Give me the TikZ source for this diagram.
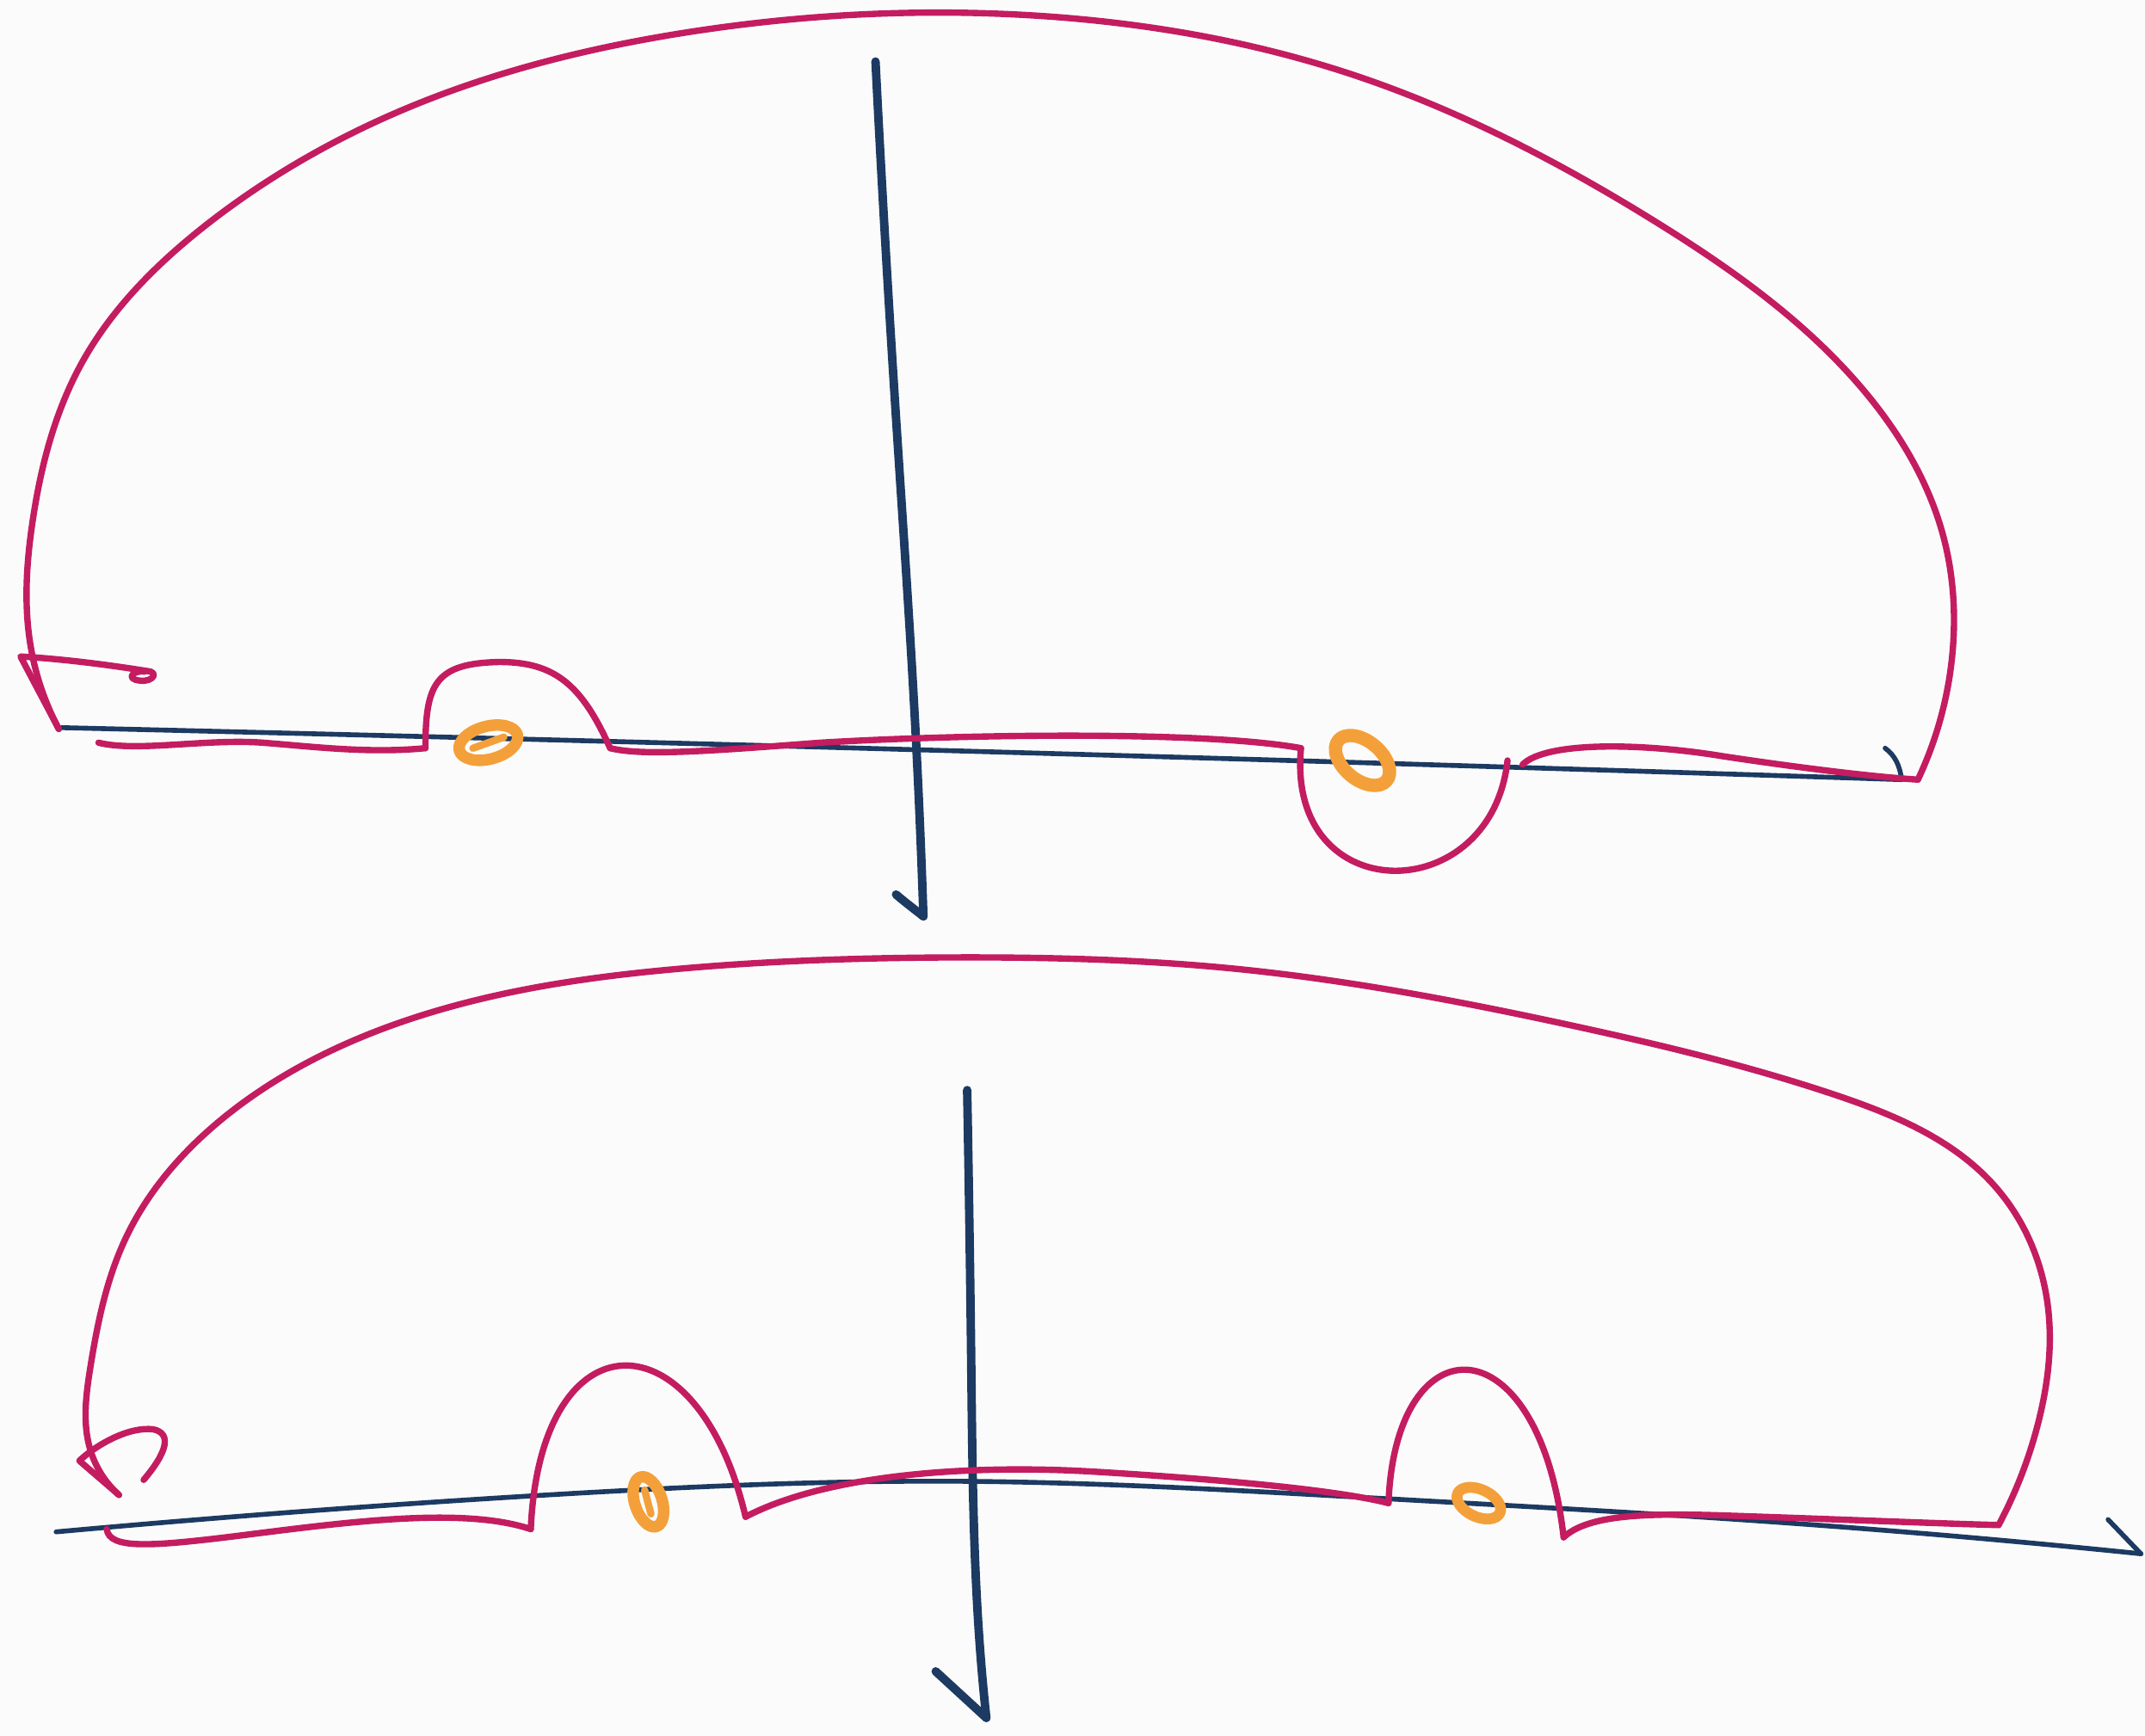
\documentclass[tikz,border=0pt]{standalone}
\usetikzlibrary{hobby}
\definecolor{pinkc}{RGB}{196,28,96}
\definecolor{navyc}{RGB}{28,58,98}
\definecolor{orangec}{RGB}{244,160,58}
\definecolor{paper}{RGB}{251,251,251}
\tikzset{
  contour/.style={draw=pinkc, line width=2.1pt, line cap=round, line join=round},
  hob/.style={use Hobby shortcut},
  axisv/.style={draw=navyc, line width=2.8pt, line cap=round, line join=round},
  axish/.style={draw=navyc, line width=1.6pt, line cap=round, line join=round},
  pole/.style={draw=orangec, line width=3.8pt, line cap=round, line join=round},
}
\begin{document}
\begin{tikzpicture}[x=0.015899cm, y=-0.015899cm]
\fill[paper] (0,0) rectangle (1568,1269);
\useasboundingbox (0,0) rectangle (1568,1269);

% ---------------- top figure ----------------
% axes
\draw[axish, hob] (45,532) .. (700,549) .. (1390,570);
\draw[axish] (1378,547) .. controls (1385,552) and (1389,560) .. (1390,570);
\draw[axisv, hob] (640,45) .. (654,290) .. (669,530) .. (675,670);
\draw[axisv] (655,654) .. controls (662,660) and (670,666) .. (675,670);

% contour
\draw[contour] (72,543) .. controls (100,550) and (150,540) .. (192,543)
   .. controls (230,546) and (270,551) .. (311,547);
\draw[contour] (311,547) .. controls (311,500) and (318,485) .. (365,484)
   .. controls (405,484) and (425,500) .. (446,547);
\draw[contour] (446,547) .. controls (470,553) and (520,549) .. (600,543)
   .. controls (700,537) and (880,534) .. (951,547);
\draw[contour] (951,547) .. controls (940,665) and (1090,665) .. (1102,556);
\draw[contour] (1113,559) .. controls (1130,542) and (1200,543) .. (1260,553)
   .. controls (1320,562) and (1370,568) .. (1402,570);
\draw[contour, hob] (1402,570) .. (1427,480) .. (1420,390) .. (1362,285) .. (1210,162) .. (990,55) .. (750,11) .. (500,24) .. (300,78) .. (150,165) .. (60,265) .. (24,380) .. (22,470) .. (43,533);
\draw[contour] (43,533) -- (15,480) .. controls (50,482) and (85,487) .. (110,491)
   .. controls (116,493) and (110,500) .. (99,497) .. controls (93,495) and (98,490) .. (106,491);

% poles
\begin{scope}[shift={(357,543)}, rotate=15]
  \draw[pole] (0,0) ellipse [x radius=22, y radius=12];
  \draw[pole, line width=2.4pt] (-12,1) -- (12,-1);
\end{scope}
\begin{scope}[shift={(996,556)}, rotate=-40]
  \draw[pole, line width=4.4pt] (0,0) ellipse [x radius=23, y radius=14];
\end{scope}

% ---------------- bottom figure ----------------
% axes
\draw[axish, hob] (41,1120) .. (400,1093) .. (700,1083) .. (1000,1095) .. (1300,1113) .. (1565,1136);
\draw[axish] (1541,1111) -- (1565,1136);
\draw[axisv, hob] (707,797) .. (710,1000) .. (716,1200) .. (721,1256);
\draw[axisv] (684,1222) -- (721,1256);

% contour
\draw[contour] (78,1118) .. controls (80,1133) and (110,1131) .. (181,1122)
   .. controls (260,1112) and (340,1102) .. (388,1118);
\draw[contour] (388,1118) .. controls (395,960) and (510,960) .. (545,1109);
\draw[contour] (545,1109) .. controls (600,1080) and (700,1070) .. (800,1076)
   .. controls (900,1082) and (980,1090) .. (1015,1099);
\draw[contour] (1015,1099) .. controls (1020,965) and (1125,965) .. (1143,1124);
\draw[contour] (1143,1124) .. controls (1160,1108) and (1200,1106) .. (1260,1108)
   .. controls (1350,1111) and (1420,1114) .. (1461,1115);
\draw[contour, hob] (1461,1115) .. (1490,1040) .. (1497,955) .. (1458,867) .. (1340,800) .. (1150,750) .. (900,708) .. (700,700) .. (500,708) .. (300,745) .. (170,812) .. (92,905) .. (66,1000) .. (66,1060) .. (87,1093);
\draw[contour] (87,1093) -- (58,1068) .. controls (72,1055) and (95,1043) .. (112,1045)
   .. controls (126,1048) and (122,1062) .. (105,1082);

% poles
\begin{scope}[shift={(474,1098)}, rotate=-72]
  \draw[pole] (0,0) ellipse [x radius=19, y radius=10];
  \draw[pole, line width=2.4pt] (-9,0) -- (9,1);
\end{scope}
\begin{scope}[shift={(1081,1099)}, rotate=-25]
  \draw[pole, line width=3.6pt] (0,0) ellipse [x radius=17, y radius=10];
\end{scope}
\end{tikzpicture}
\end{document}
